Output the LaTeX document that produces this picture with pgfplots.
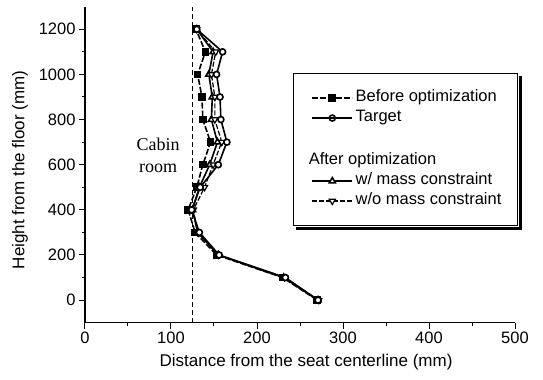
\documentclass[border=0pt]{standalone}
\usepackage{fontspec}
\setmainfont{Liberation Sans}
\newfontfamily\serifcab{Liberation Serif}
\usepackage{pgfplots}
\pgfplotsset{compat=1.18}
\begin{document}
\begin{tikzpicture}
\path[use as bounding box] (-85bp,-57.3bp) rectangle (458bp,322.7bp);
\begin{axis}[
  scale only axis, width=430bp, height=316bp,
  xmin=0, xmax=500, ymin=-100, ymax=1300,
  axis x line*=bottom, axis y line*=left,
  axis line style={line width=1.2bp, -},
  xtick={0,100,...,500}, ytick={0,200,...,1200},
  minor xtick={50,150,...,450}, minor ytick={100,300,...,1100},
  tick align=outside, major tick length=6bp, minor tick length=3bp,
  tick style={line width=1bp, black},
  /pgf/number format/assume math mode=true,
  /pgf/number format/set thousands separator={},
  ticklabel style={font=\fontsize{16.5bp}{20bp}\selectfont},
  label style={font=\fontsize{17bp}{20bp}\selectfont},
  xlabel={Distance from the seat centerline (mm)},
  ylabel={Height from the floor (mm)},
  xlabel style={at={(axis description cs:0.514,-0.124)}, anchor=center},
  ylabel style={at={(axis description cs:-0.151,0.483)}, anchor=center},
  legend cell align=left,
  legend image code/.code={\path (-4bp,0bp); \draw[#1, mark repeat=2, mark phase=2] plot coordinates {(0bp,0bp) (20bp,0bp) (40bp,0bp)};},
  legend style={name=leg, at={(0.4837,0.790)}, anchor=north west, draw=black, line width=1bp, fill=white,
    font=\fontsize{16.5bp}{20bp}\selectfont,
    nodes={inner ysep=0pt, inner xsep=2.5bp, text height=12bp, text depth=5bp},
    row sep=3bp, inner xsep=14bp, inner ysep=16bp},
]
\addplot[black, line width=1.2bp, dash pattern=on 5bp off 3bp, forget plot] coordinates {(125,-100) (125,1300)};
\node[align=center, font=\serifcab\fontsize{18bp}{22bp}\selectfont] at (axis cs:85,640) {Cabin\\room};

\addplot[black, line width=1.6bp, dash pattern=on 6bp off 2bp, mark=square*, mark size=3bp, mark options={solid, fill=black}] coordinates {
(270,0) (230,100) (153,200) (128,300) (120,400) (130,500) (137,600) (146,700) (137,800) (136,900) (131,1000) (140,1100) (129,1200)};
\addlegendentry{Before optimization}
\addlegendimage{black, line width=1.6bp, mark=o, mark size=3bp, mark options={solid, fill=white}}
\addlegendentry{Target}
\addlegendimage{empty legend}
\addlegendentry[text height=15bp]{}
\addlegendimage{legend image code/.code={\node[anchor=west, inner sep=0pt, overlay, font=\fontsize{16.5bp}{20bp}\selectfont] at (-4bp,0bp) {After optimization};}}
\addlegendentry{}
\addplot[black, line width=1.6bp, mark=triangle*, mark size=3.5bp, mark options={solid, fill=white}] coordinates {
(271,0) (231,100) (155,200) (131,300) (125,400) (133,500) (145,600) (154,700) (147,800) (148,900) (144,1000) (149,1100) (130,1200)};
\addlegendentry{w/ mass constraint}
\addplot[black, line width=1.2bp, dash pattern=on 5bp off 2bp, mark=triangle*, mark size=3.5bp, mark options={solid, fill=white, rotate=180}] coordinates {
(272,0) (232,100) (155,200) (131,300) (126,400) (139,500) (149,600) (159,700) (151,800) (151,900) (147,1000) (152,1100) (130,1200)};
\addlegendentry{w/o mass constraint}
\addplot[black, line width=1.6bp, mark=*, mark size=3bp, mark options={solid, fill=white}, forget plot] coordinates {
(271,0) (233,100) (156,200) (133,300) (124,400) (134,500) (155,600) (165,700) (158,800) (157,900) (153,1000) (160,1100) (130,1200)};
\end{axis}
\fill[black] ([shift={(0.5bp,-3bp)}]leg.north east) rectangle ([shift={(3.5bp,-3.5bp)}]leg.south east);
\fill[black] ([shift={(3bp,-0.5bp)}]leg.south west) rectangle ([shift={(3.5bp,-3.5bp)}]leg.south east);
\end{tikzpicture}
\end{document}
